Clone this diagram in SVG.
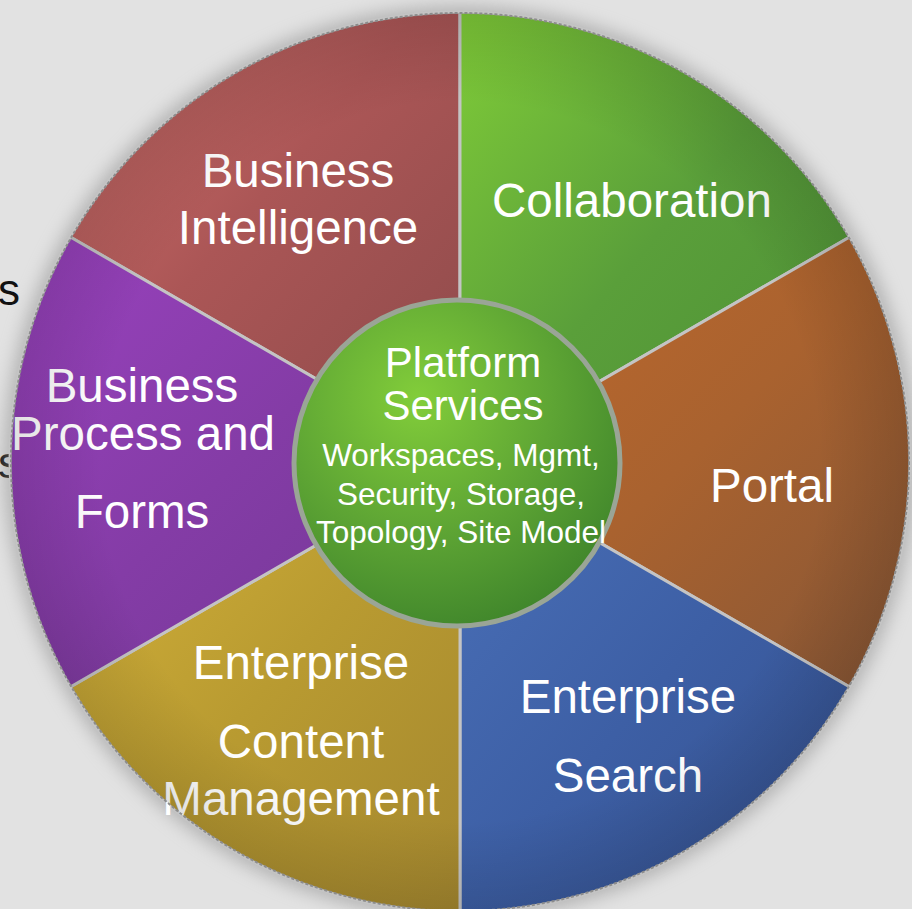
<svg xmlns="http://www.w3.org/2000/svg" width="912" height="909" viewBox="0 0 912 909">
  <defs>
    <style>
      .lbl { font-family: "Liberation Sans", Arial, sans-serif; font-size: 47.5px; fill: #ffffff; text-anchor: middle; }
      .ctr { font-family: "Liberation Sans", Arial, sans-serif; font-size: 42px; fill: #ffffff; text-anchor: middle; }
      .sub { font-family: "Liberation Sans", Arial, sans-serif; font-size: 31.5px; fill: #ffffff; text-anchor: middle; }
      .bg  { font-family: "Liberation Sans", Arial, sans-serif; font-size: 44px; fill: #111111; }
      .wedge { stroke: #c4c4c4; stroke-width: 3; stroke-linejoin: round; }
    </style>
    <filter id="shadow" x="-20%" y="-20%" width="140%" height="140%">
      <feGaussianBlur stdDeviation="9"/>
    </filter>
    <linearGradient id="gBI" x1="0" y1="0" x2="1" y2="1">
      <stop offset="0" stop-color="#d4716d"/>
      <stop offset="0.45" stop-color="#ab5656"/>
      <stop offset="1" stop-color="#8c4a4a"/>
    </linearGradient>
    <linearGradient id="gCO" x1="0" y1="0" x2="1" y2="1">
      <stop offset="0" stop-color="#80cc38"/>
      <stop offset="0.5" stop-color="#5a9f3a"/>
      <stop offset="1" stop-color="#4d8f36"/>
    </linearGradient>
    <linearGradient id="gPO" x1="0" y1="0" x2="1" y2="1">
      <stop offset="0" stop-color="#c0692c"/>
      <stop offset="0.5" stop-color="#a9622f"/>
      <stop offset="1" stop-color="#865636"/>
    </linearGradient>
    <linearGradient id="gES" x1="0" y1="0" x2="1" y2="1">
      <stop offset="0" stop-color="#4a70b8"/>
      <stop offset="0.5" stop-color="#3d5fa5"/>
      <stop offset="1" stop-color="#34508e"/>
    </linearGradient>
    <linearGradient id="gEC" x1="0" y1="0" x2="1" y2="1">
      <stop offset="0" stop-color="#d4b23a"/>
      <stop offset="0.5" stop-color="#b99b31"/>
      <stop offset="1" stop-color="#a4872f"/>
    </linearGradient>
    <linearGradient id="gBP" x1="0" y1="0" x2="1" y2="1">
      <stop offset="0" stop-color="#9a42bf"/>
      <stop offset="0.5" stop-color="#843ca6"/>
      <stop offset="1" stop-color="#723894"/>
    </linearGradient>
    <radialGradient id="gPS" cx="0.38" cy="0.3" r="0.75">
      <stop offset="0" stop-color="#82cd3a"/>
      <stop offset="0.55" stop-color="#5ea534"/>
      <stop offset="1" stop-color="#3f852b"/>
    </radialGradient>
    <radialGradient id="gRim" cx="0.5" cy="0.5" r="0.5">
      <stop offset="0.8" stop-color="#000000" stop-opacity="0"/>
      <stop offset="1" stop-color="#000000" stop-opacity="0.12"/>
    </radialGradient>
  </defs>

  <rect x="0" y="0" width="912" height="909" fill="#e2e2e2"/>

  <!-- partially hidden background text -->
  <text class="bg" x="-2" y="305">s</text>
  <text class="bg" x="-2" y="478">s</text>

  <!-- wheel shadow -->
  <circle cx="460" cy="462" r="456" fill="#8a8a8a" opacity="0.55" filter="url(#shadow)"/>

  <g id="business-intelligence">
    <path class="wedge" fill="url(#gBI)" d="M460,462 L70.3,237 A450,450 0 0 1 460,12 Z"/>
    <text class="lbl" x="298" y="187">Business</text>
    <text class="lbl" x="298" y="244">Intelligence</text>
  </g>

  <g id="collaboration">
    <path class="wedge" fill="url(#gCO)" d="M460,462 L460,12 A450,450 0 0 1 849.7,237 Z"/>
    <text class="lbl" x="632" y="217">Collaboration</text>
  </g>

  <g id="portal">
    <path class="wedge" fill="url(#gPO)" d="M460,462 L849.7,237 A450,450 0 0 1 849.7,687 Z"/>
    <text class="lbl" x="772" y="502">Portal</text>
  </g>

  <g id="enterprise-search">
    <path class="wedge" fill="url(#gES)" d="M460,462 L849.7,687 A450,450 0 0 1 460,912 Z"/>
    <text class="lbl" x="628" y="713">Enterprise</text>
    <text class="lbl" x="628" y="792">Search</text>
  </g>

  <g id="enterprise-content-management">
    <path class="wedge" fill="url(#gEC)" d="M460,462 L460,912 A450,450 0 0 1 70.3,687 Z"/>
    <text class="lbl" x="301" y="679">Enterprise</text>
    <text class="lbl" x="301" y="758">Content</text>
    <text class="lbl" x="301" y="815">Management</text>
  </g>

  <g id="business-process-and-forms">
    <path class="wedge" fill="url(#gBP)" d="M460,462 L70.3,687 A450,450 0 0 1 70.3,237 Z"/>
    <text class="lbl" x="142" y="402">Business</text>
    <text class="lbl" x="143" y="450">Process and</text>
    <text class="lbl" x="142" y="528">Forms</text>
  </g>

  <!-- rim -->
  <circle cx="460" cy="462" r="449" fill="url(#gRim)" stroke="#8c8c8c" stroke-width="2" stroke-dasharray="3 2"/>

  <g id="platform-services">
    <circle cx="457" cy="463" r="163" fill="url(#gPS)" stroke="#9aa596" stroke-width="5"/>
    <text class="ctr" x="463" y="377">Platform</text>
    <text class="ctr" x="463" y="420">Services</text>
    <text class="sub" x="461" y="466">Workspaces, Mgmt,</text>
    <text class="sub" x="461" y="505">Security, Storage,</text>
    <text class="sub" x="461" y="543">Topology, Site Model</text>
  </g>
</svg>
